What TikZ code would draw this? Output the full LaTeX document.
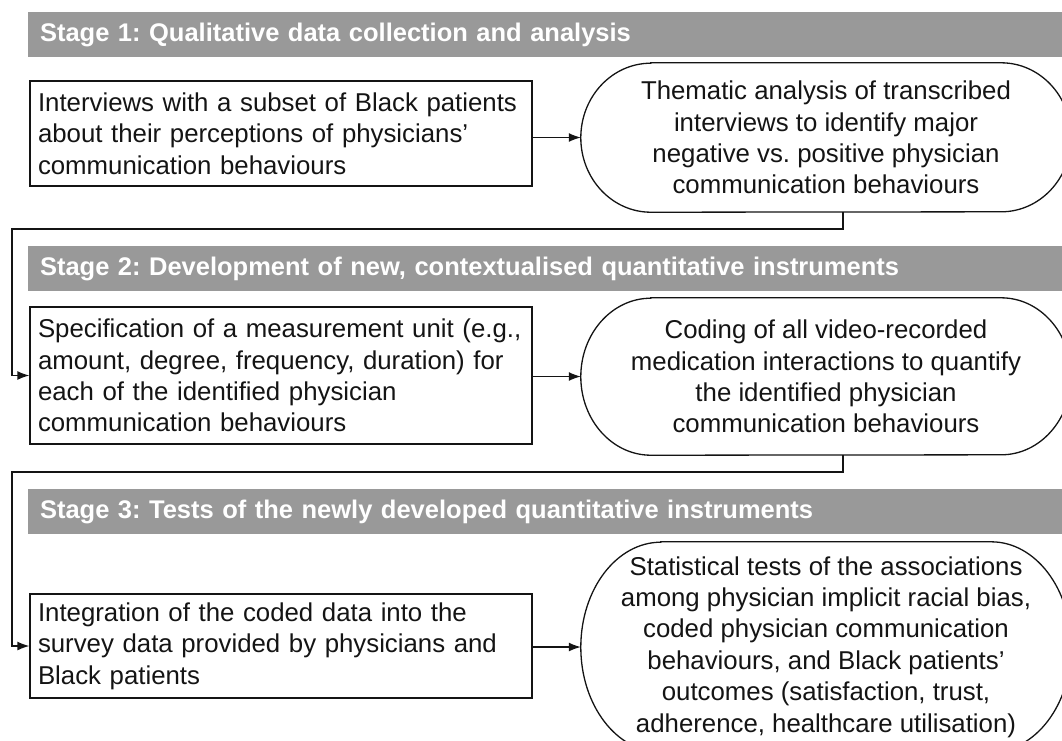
\documentclass[tikz,border=0pt]{standalone}
\usepackage{fontspec}
\setmainfont{Liberation Sans}
\usetikzlibrary{positioning,arrows.meta}
\definecolor{stagegray}{RGB}{153,153,153}
\definecolor{inkblack}{RGB}{20,20,20}
\frenchspacing

% outline with elliptic ends round a rectangular node: node, x radius, half height
\newcommand{\capframe}[3]{%
  \draw[line width=1.3pt] ([xshift=#2]#1.north west) -- ([xshift=-#2]#1.north east)
    arc[start angle=90, end angle=-90, x radius=#2, y radius=#3]
    -- ([xshift=#2]#1.south west)
    arc[start angle=270, end angle=90, x radius=#2, y radius=#3] -- cycle;}

\tikzset{
  stagebar/.style={fill=stagegray, text=white, font=\bfseries\fontsize{25.5}{30}\selectfont,
    minimum width=1034pt, minimum height=45pt, text width=1010pt, inner xsep=12pt, inner ysep=0pt, align=left},
  stepbox/.style={draw, line width=1.3pt, font=\fontsize{25.8}{31.4}\selectfont,
    text width=486pt, inner xsep=8pt, inner ysep=0pt, align=left},
  stepoval/.style={font=\fontsize{25.8}{31.4}\selectfont, align=center,
    minimum width=490pt, inner sep=0pt},
  flow/.style={line width=1.3pt, -{Latex[length=12pt,width=9pt]}}
}

\begin{document}
\begin{tikzpicture}[x=1pt, y=-1pt, inkblack]
        \clip (0,0) rectangle (1062,740);
        % stage banners
        \node[stagebar] (S1) at (545,34.5) {Stage 1: Qualitative data collection and analysis};
        \node[stagebar] (S2) at (545,268.5) {Stage 2: Development of new, contextualised quantitative instruments};
        \node[stagebar] (S3) at (545,511.5) {Stage 3: Tests of the newly developed quantitative instruments};
        % steps
        \node[stepbox, minimum height=105pt] (B1) at (281,133.5) {Interviews with a subset of Black patients\\about their perceptions of physicians'\\communication behaviours};
        \node[stepoval, minimum height=149pt] (O1) at (826,137.5) {Thematic analysis of transcribed\\interviews to identify major\\negative vs. positive physician\\communication behaviours};
        \node[stepbox, minimum height=137pt] (B2) at (281,375.5) {Specification of a measurement unit (e.g.,\\amount, degree, frequency, duration) for\\each of the identified physician\\communication behaviours};
        \node[stepoval, minimum height=157pt] (O2) at (826,376.5) {Coding of all video-recorded\\medication interactions to quantify\\the identified physician\\communication behaviours};
        \node[stepbox, minimum height=104pt] (B3) at (281,646) {Integration of the coded data into the\\survey data provided by physicians and\\Black patients};
        \node[stepoval, minimum height=210pt] (O3) at (826,647) {Statistical tests of the associations\\among physician implicit racial bias,\\coded physician communication\\behaviours, and Black patients'\\outcomes (satisfaction, trust,\\adherence, healthcare utilisation)};
        \capframe{O1}{70pt}{74.5pt}
        \capframe{O2}{70pt}{78.5pt}
        \capframe{O3}{80pt}{105pt}
        % connectors
        \coordinate (T1) at (12,229);
        \coordinate (T2) at (12,472);
        \draw[flow] (B1.east |- O1.west) -- (O1.west);
        \draw[flow] ([xshift=17pt]O1.south) |- (T1) |- (B2.west);
        \draw[flow] (B2.east |- O2.west) -- (O2.west);
        \draw[flow] ([xshift=17pt]O2.south) |- (T2) |- (B3.west);
        \draw[flow] (B3.east |- O3.west) -- (O3.west);
\end{tikzpicture}
\end{document}
